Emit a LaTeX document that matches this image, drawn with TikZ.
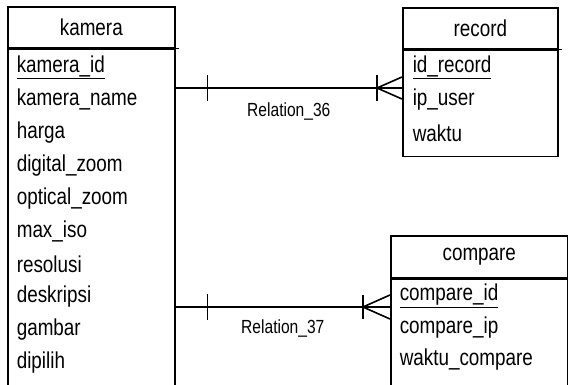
\documentclass[tikz,border=0pt]{standalone}
\usepackage{fontspec}
\newfontfamily\erfont[FakeStretch=0.82]{Liberation Sans}
\usetikzlibrary{positioning}
\begin{document}
\begin{tikzpicture}[x=1pt, y=-1pt, line width=1.6pt,
      every node/.style={font=\erfont\fontsize{23}{26}\selectfont},
      enthead/.style={draw, rectangle, anchor=north west, inner sep=0pt, minimum height=41pt},
      entbody/.style={draw, rectangle, inner sep=0pt},
      attr/.style={anchor=west, inner sep=0pt},
      rellabel/.style={font=\erfont\fontsize{19}{22}\selectfont},
      rel/.style={line width=1.6pt}]
      \useasboundingbox (0,0) rectangle (568,385);

      % Define entities
      \node[enthead, minimum width=167pt] (khead) at (7,6) {kamera};
      \node[entbody, below=0pt of khead, minimum width=167pt, minimum height=336pt] (kbody) {};
      \node[enthead, minimum width=155pt] (rhead) at (402,7) {record};
      \node[entbody, below=0pt of rhead, minimum width=155pt, minimum height=106pt] (rbody) {};
      \node[enthead, minimum width=177pt, minimum height=42pt] (chead) at (390,235) {compare};
      \node[entbody, below=0pt of chead, minimum width=177pt, minimum height=106pt] (cbody) {};
      \draw (khead.south west) -- ([xshift=3pt]khead.south east);
      \draw (rhead.south west) -- ([xshift=3pt]rhead.south east);
      \draw (chead.south west) -- ([xshift=3pt]chead.south east);

      % Attributes
      \node[attr] (k1) at (16,67) {\underline{kamera\_id}};
      \foreach \a [count=\i from 2] in {kamera\_name, harga, digital\_zoom, optical\_zoom,
          max\_iso, resolusi, deskripsi, gambar, dipilih}
        \node[attr] (k\i) at (16,{67+32.8*(\i-1)}) {\a};
      \node[attr] (r1) at (412,67) {\underline{id\_record}};
      \node[attr] (r2) at (412,100) {ip\_user};
      \node[attr] (r3) at (412,133) {waktu};
      \node[attr] (c1) at (399,296) {\underline{compare\_id}};
      \node[attr] (c2) at (399,328) {compare\_ip};
      \node[attr] (c3) at (399,360) {waktu\_compare};

      % Relation_36: one kamera, many record
      \coordinate (k36) at (kbody.east |- 0,88);
      \coordinate (r36) at (rbody.west |- 0,88);
      \draw[rel] (k36) -- node[rellabel, below=11pt] (l36) {Relation\_36} (r36);
      \draw[rel] ([xshift=32pt]k36) ++(0,-13) -- ++(0,26);
      \draw[rel] ([xshift=-25pt]r36) ++(0,-13) -- ++(0,26);
      \draw[rel] ([yshift=11pt]r36) -- ([xshift=-25pt]r36) -- ([yshift=-11pt]r36);

      % Relation_37: one kamera, many compare
      \coordinate (k37) at (kbody.east |- 0,307);
      \coordinate (c37) at (cbody.west |- 0,307);
      \draw[rel] (k37) -- node[rellabel, below=9pt] (l37) {Relation\_37} (c37);
      \draw[rel] ([xshift=32pt]k37) ++(0,-13) -- ++(0,26);
      \draw[rel] ([xshift=-27pt]c37) ++(0,-12) -- ++(0,24);
      \draw[rel] ([yshift=12pt]c37) -- ([xshift=-27pt]c37) -- ([yshift=-12pt]c37);
    \end{tikzpicture}
\end{document}
